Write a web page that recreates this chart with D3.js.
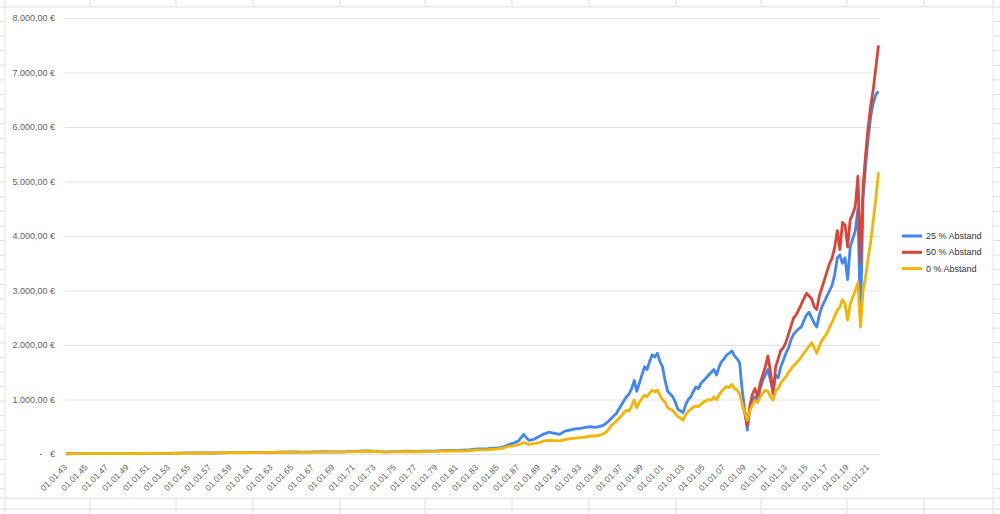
<!DOCTYPE html>
<html>
<head>
<meta charset="utf-8">
<script src="https://cdnjs.cloudflare.com/ajax/libs/d3/7.8.5/d3.min.js"></script>
<style>
body { margin: 0; background: #fff; }
svg { display: block; font-family: "Liberation Sans", Arial, sans-serif; }
</style>
</head>
<body>
<svg></svg>
<script>
//Base SVG values
let width = 1000
let height = 514

//Data (decimal years, values in €)
let years = [
	1943,1944,1945,1946,1947,1948,1949,1950,1951,1952,1953,1954,1955,1956,1957,1958,1959,1960,1961,1962,1963,
	1964,1965,1966,1967,1968,1969,1970,1971,1972,1973,1974,1975,1976,1977,1978,1979,1980,1981,1982,1983,1984,
	1985,1985.5,1986,1986.5,1987,1987.5,1988,1988.5,1989,1989.5,1990,1990.5,1991,1991.5,1992,1992.5,1993,1993.5,1994,1994.5,
	1995,1995.25,1995.5,1995.75, 1996,1996.25,1996.5,1996.75, 1997,1997.25,1997.5,1997.75, 1998,1998.25,1998.5,1998.75,
	1999,1999.25,1999.5,1999.75, 2000,2000.25,2000.5,2000.75, 2001,2001.25,2001.5,2001.75, 2002,2002.25,2002.5,2002.75,
	2003,2003.25,2003.5,2003.75, 2004,2004.25,2004.5,2004.75, 2005,2005.25,2005.5,2005.75, 2006,2006.25,2006.5,2006.75,
	2007,2007.25,2007.5,2007.75, 2008,2008.25,2008.5,2008.75, 2009,2009.25,2009.5,2009.75, 2010,2010.25,2010.5,2010.75,
	2011,2011.25,2011.5,2011.75, 2012,2012.25,2012.5,2012.75, 2013,2013.25,2013.5,2013.75, 2014,2014.25,2014.5,2014.75,
	2015,2015.25,2015.5,2015.75, 2016,2016.25,2016.5,2016.75, 2017,2017.25,2017.5,2017.75, 2018,2018.25,2018.5,2018.75,
	2019,2019.25,2019.5,2019.75, 2020,2020.25,2020.5,2020.75, 2021,2021.25,2021.5,2021.75, 2022
]

let blueValues = [ // 25 % Abstand
	5,6,7,7,7,7,8,9,10,11,12,15,18,19,18,22,25,25,29,27,31,
	35,37,34,38,41,38,40,47,58,54,38,44,51,48,51,56,67,66,73,92,97,
	110,130,170,200,240,360,250,270,320,370,400,380,360,420,440,460,470,490,500,490,
	510,530,560,600, 650,700,740,820, 900,980,1050,1100, 1200,1350,1150,1300,
	1450,1600,1550,1700, 1820,1780,1850,1700, 1600,1350,1150,1100, 1050,950,820,790,
	760,900,1000,1050, 1150,1230,1200,1300, 1350,1400,1450,1500, 1550,1450,1600,1700,
	1750,1820,1850,1890, 1800,1750,1670,1170, 800,440,850,1000, 1050,950,1200,1350,
	1450,1550,1350,1150, 1450,1400,1600,1720, 1850,1950,2100,2200, 2250,2300,2330,2450,
	2550,2600,2500,2400, 2330,2550,2700,2800, 2900,3000,3100,3300, 3600,3650,3500,3600,
	3200,3800,3950,4100, 4500,2400,4700,5300, 5800,6200,6450,6600, 6650
]

let yellowValues = [ // 0 % Abstand
	5,6,7,7,7,7,8,9,10,11,11,14,17,18,17,21,24,23,27,25,29,
	32,34,31,35,37,34,36,42,50,46,33,38,44,41,43,47,56,55,60,75,78,
	95,110,140,150,170,210,175,190,210,240,250,245,240,265,280,290,300,310,330,330,
	350,370,400,450, 520,560,600,650, 700,760,800,790, 880,990,850,950,
	1020,1080,1050,1120, 1170,1140,1170,1080, 1000,950,850,820, 800,740,680,660,
	620,720,780,820, 860,880,870,920, 950,980,1000,990, 1050,1000,1080,1150,
	1200,1240,1220,1280, 1200,1180,1100,930, 760,620,800,900, 980,950,1050,1120,
	1170,1150,1050,990, 1150,1200,1300,1360, 1420,1500,1560,1620, 1670,1720,1780,1850,
	1910,1980,2040,1950, 1850,1980,2080,2150, 2220,2330,2420,2530, 2640,2700,2830,2750,
	2460,2750,2880,3000, 3140,2330,3000,3250, 3600,3900,4300,4700, 5170
]

let redYears = [
	2008.75, 2009,2009.25,2009.5,2009.75, 2010,2010.25,2010.5,2010.75, 2011,2011.25,2011.5,2011.75,
	2012,2012.25,2012.5,2012.75, 2013,2013.25,2013.5,2013.75, 2014,2014.25,2014.5,2014.75,
	2015,2015.25,2015.5,2015.75, 2016,2016.25,2016.5,2016.75, 2017,2017.25,2017.5,2017.75,
	2018,2018.25,2018.5,2018.75, 2019,2019.25,2019.5,2019.75, 2020,2020.25,2020.5,2020.75,
	2021,2021.25,2021.5,2021.75, 2022
]

let redValues = [ // 50 % Abstand
	930, 750,520,900,1100, 1200,1050,1300,1450, 1600,1800,1500,1100,
	1600,1750,1900,1950, 2050,2200,2350,2500, 2550,2650,2750,2850,
	2950,2900,2850,2700, 2650,2900,3050,3200, 3350,3500,3600,3800,
	4100,3750,4250,4200, 3800,4300,4400,4550, 5100,3500,4900,5500,
	6000,6400,6700,7100, 7500
]

let yTicks = [0,1000,2000,3000,4000,5000,6000,7000,8000]

let tickYears = [1943,1945,1947,1949,1951,1953,1955,1957,1959,1961,1963,1965,1967,1969,1971,1973,1975,1977,1979,1981,
	1983,1985,1987,1989,1991,1993,1995,1997,1999,2001,2003,2005,2007,2009,2011,2013,2015,2017,2019,2021]
let tickLabels = ["01.01.43","01.01.45","01.01.47","01.01.49","01.01.51","01.01.53","01.01.55","01.01.57","01.01.59","01.01.61",
	"01.01.63","01.01.65","01.01.67","01.01.69","01.01.71","01.01.73","01.01.75","01.01.77","01.01.79","01.01.81",
	"01.01.83","01.01.85","01.01.87","01.01.89","01.01.91","01.01.93","01.01.95","01.01.97","01.01.99","01.01.01",
	"01.01.03","01.01.05","01.01.07","01.01.09","01.01.11","01.01.13","01.01.15","01.01.17","01.01.19","01.01.21"]

let seriesNames = ["25 % Abstand", "50 % Abstand", "0 % Abstand"]
let seriesColors = ["#4285f4", "#db4437", "#f4b400"]

let plot = { left: 65, right: 880, top: 18, bottom: 454 }

let svg = d3.select("svg")
	.attr("width", width)
	.attr("height", height)

//Spreadsheet cells behind the chart
let cellColor = "#dedede"
let colXs = [5, 90, 176, 253, 340, 425, 512, 589, 676, 761, 847, 924, 993]
let bg = svg.append("g")
colXs.forEach(x => {
	bg.append("line").attr("x1", x).attr("x2", x).attr("y1", 0).attr("y2", 7).attr("stroke", cellColor)
	bg.append("line").attr("x1", x).attr("x2", x).attr("y1", 498).attr("y2", height).attr("stroke", cellColor)
})
;[7, 498, 509].forEach(y => {
	bg.append("line").attr("x1", 0).attr("x2", width).attr("y1", y).attr("y2", y).attr("stroke", cellColor)
})
for (let y = 21.5; y < 498; y += 14.6) {
	bg.append("line").attr("x1", 0).attr("x2", 5).attr("y1", y).attr("y2", y).attr("stroke", cellColor)
	bg.append("line").attr("x1", 993).attr("x2", width).attr("y1", y).attr("y2", y).attr("stroke", cellColor)
}
svg.append("rect")
	.attr("x", 5).attr("y", 7)
	.attr("width", 988).attr("height", 491)
	.attr("fill", "#fff")
	.attr("stroke", "#e6e6e6")

//Scales
let xScale = d3.scaleLinear()
	.domain([1943, 2022.05])
	.range([66, 879])
let yScale = d3.scaleLinear()
	.domain([0, 8000])
	.range([plot.bottom, plot.top])

let de = d3.formatLocale({ decimal: ",", thousands: ".", grouping: [3], currency: ["", " €"] })
let euro = de.format("$,.2f")

//Y axis with gridlines
let axisY = d3.axisLeft(yScale)
	.tickValues(yTicks)
	.tickSize(-(plot.right - plot.left))
	.tickPadding(10)
	.tickFormat(d => d === 0 ? "-   €" : euro(d))

let gy = svg.append("g")
	.attr("transform", `translate(${plot.left},0)`)
	.call(axisY)
gy.select(".domain").remove()
gy.selectAll("line").attr("stroke", "#e3e3e3")
gy.selectAll("text")
	.attr("fill", "#5f5f5f")
	.style("font-size", "9px")
	.style("white-space", "pre")
	.attr("font-family", null)

//X axis
let axisX = d3.axisBottom(xScale)
	.tickValues(tickYears)
	.tickSize(0)
	.tickFormat((d, i) => tickLabels[i])

let gx = svg.append("g")
	.attr("transform", `translate(0,${plot.bottom})`)
	.call(axisX)
gx.select(".domain").remove()
gx.selectAll("text")
	.attr("y", 0)
	.attr("dy", 0)
	.attr("transform", "translate(1,14) rotate(-45)")
	.style("text-anchor", "end")
	.attr("fill", "#5f5f5f")
	.style("font-size", "8.5px")
	.attr("font-family", null)

//Lines
let line = d3.line()
	.x(d => xScale(d[0]))
	.y(d => yScale(d[1]))

let series = [
	d3.zip(years, blueValues),
	d3.zip(redYears, redValues),
	d3.zip(years, yellowValues)
]

svg.append("g")
	.selectAll("path")
	.data(series)
	.enter()
	.append("path")
		.attr("d", line)
		.attr("fill", "none")
		.attr("stroke", (d, i) => seriesColors[i])
		.attr("stroke-width", 2.8)
		.attr("stroke-linejoin", "round")

//Legend
let legend = svg.append("g")
	.selectAll("g")
	.data(seriesNames)
	.enter()
	.append("g")
		.attr("transform", (d, i) => `translate(902,${236 + i * 16.3})`)

legend.append("line")
	.attr("x1", 0).attr("x2", 20)
	.attr("stroke", (d, i) => seriesColors[i])
	.attr("stroke-width", 3)
legend.append("text")
	.attr("x", 24)
	.attr("dy", "0.35em")
	.attr("fill", "#333")
	.style("font-size", "9px")
	.text(d => d)
</script>
</body>
</html>
